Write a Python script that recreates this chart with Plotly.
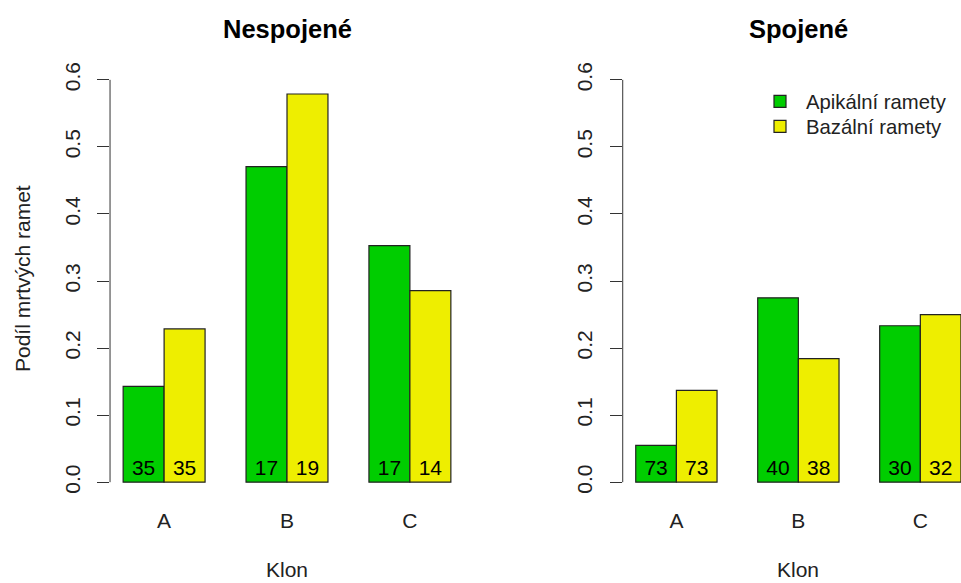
import plotly.graph_objects as go

# Clone categories and the two ramet groups
categories = ["A", "B", "C"]
series_names = ["Apikální ramety", "Bazální ramety"]
series_colors = ["#00CD00", "#EEEE00"]

# Proportion of dead ramets (Podíl mrtvých ramet)
nespojene_apikalni = [0.1429, 0.4706, 0.3529]
nespojene_bazalni = [0.2286, 0.5789, 0.2857]
spojene_apikalni = [0.0548, 0.2750, 0.2333]
spojene_bazalni = [0.1370, 0.1842, 0.2500]

# Number of ramets behind each proportion
nespojene_apikalni_n = [35, 17, 17]
nespojene_bazalni_n = [35, 19, 14]
spojene_apikalni_n = [73, 40, 30]
spojene_bazalni_n = [73, 38, 32]

y_ticks = [0.0, 0.1, 0.2, 0.3, 0.4, 0.5, 0.6]
panel_titles = ["Nespojené", "Spojené"]
x_title = "Klon"
y_title = "Podíl mrtvých ramet"

FONT = "Liberation Sans, Arial, sans-serif"
AXIS_COLOR = "#333333"
TEXT_COLOR = "#222222"
COUNT_LABEL_Y = 0.018  # counts are written just above the bar base

panels = [
    ("x", "y", [nespojene_apikalni, nespojene_bazalni], [nespojene_apikalni_n, nespojene_bazalni_n]),
    ("x2", "y2", [spojene_apikalni, spojene_bazalni], [spojene_apikalni_n, spojene_bazalni_n]),
]

fig = go.Figure()
for p, (xa, ya, values, counts) in enumerate(panels):
    for k, (name, color, vals) in enumerate(zip(series_names, series_colors, values)):
        fig.add_trace(go.Bar(
            x=categories, y=vals, name=name,
            marker=dict(color=color, line=dict(color="#222222", width=1.2)),
            xaxis=xa, yaxis=ya, hoverinfo="skip",
            showlegend=(p == 1), legend="legend" if k == 0 else "legend2",
        ))
    for ns in counts:
        fig.add_trace(go.Scatter(
            x=categories, y=[COUNT_LABEL_Y] * len(ns),
            text=[str(n) for n in ns], mode="text",
            textposition="middle center",
            textfont=dict(family=FONT, size=21, color="black"),
            xaxis=xa, yaxis=ya, hoverinfo="skip", showlegend=False,
        ))

y_common = dict(
    range=[-0.024, 0.624], domain=[0.1458, 0.8937],
    tickvals=y_ticks, ticktext=[f"{v:.1f}" for v in y_ticks],
    tickangle=-90, ticks="outside", ticklen=12, tickwidth=1, tickcolor=AXIS_COLOR,
    tickfont=dict(family=FONT, size=21, color=TEXT_COLOR),
    ticklabelstandoff=9,
    showline=False, showgrid=False, zeroline=False, fixedrange=True,
)
x_common = dict(
    showline=False, showgrid=False, zeroline=False, ticks="",
    tickfont=dict(family=FONT, size=21, color=TEXT_COLOR),
    ticklabelstandoff=8, fixedrange=True,
)

shapes = []
annotations = []
for xa, ya, title in [("x", "y", panel_titles[0]), ("x2", "y2", panel_titles[1])]:
    # y axis line spanning only the tick range
    shapes.append(dict(type="line", xref=f"{xa} domain", x0=0, x1=0,
                       yref=ya, y0=y_ticks[0], y1=y_ticks[-1],
                       line=dict(color=AXIS_COLOR, width=1)))
    annotations.append(dict(xref=xa, yref="paper", x=1, y=(583 - 27) / 583,
                            text=f"<b>{title}</b>", showarrow=False,
                            xanchor="center", yanchor="middle",
                            font=dict(family=FONT, size=25.5, color="black")))
    annotations.append(dict(xref=xa, yref="paper", x=1, y=0,
                            text=x_title, showarrow=False,
                            xanchor="center", yanchor="bottom",
                            font=dict(family=FONT, size=21, color=TEXT_COLOR)))

annotations.append(dict(xref="paper", yref="paper", x=22 / 961, y=(583 - 278) / 583,
                        text=y_title, textangle=-90, showarrow=False,
                        xanchor="center", yanchor="middle",
                        font=dict(family=FONT, size=21, color=TEXT_COLOR)))

legend_common = dict(
    x=754 / 961, xanchor="left", yanchor="top",
    bgcolor="rgba(0,0,0,0)", itemwidth=42, tracegroupgap=0,
    font=dict(family=FONT, size=20.3, color=TEXT_COLOR),
)

fig.update_layout(
    width=961, height=583,
    margin=dict(l=0, r=0, t=0, b=0),
    paper_bgcolor="white", plot_bgcolor="white",
    barmode="group", bargap=1 / 3, bargroupgap=0,
    scattermode="group", scattergap=1 / 3,
    font=dict(family=FONT, size=21, color=TEXT_COLOR),
    xaxis=dict(domain=[0.1145, 0.4828], range=[-0.44, 2.44], anchor="y", **x_common),
    xaxis2=dict(domain=[0.648, 1.0], range=[-0.44, 2.3334], anchor="y2", **x_common),
    yaxis=dict(anchor="x", **y_common),
    yaxis2=dict(anchor="x2", **y_common),
    legend=dict(y=(583 - 80) / 583, **legend_common),
    legend2=dict(y=(583 - 105) / 583, **legend_common),
    shapes=shapes, annotations=annotations,
)

fig.write_html("out.html")
